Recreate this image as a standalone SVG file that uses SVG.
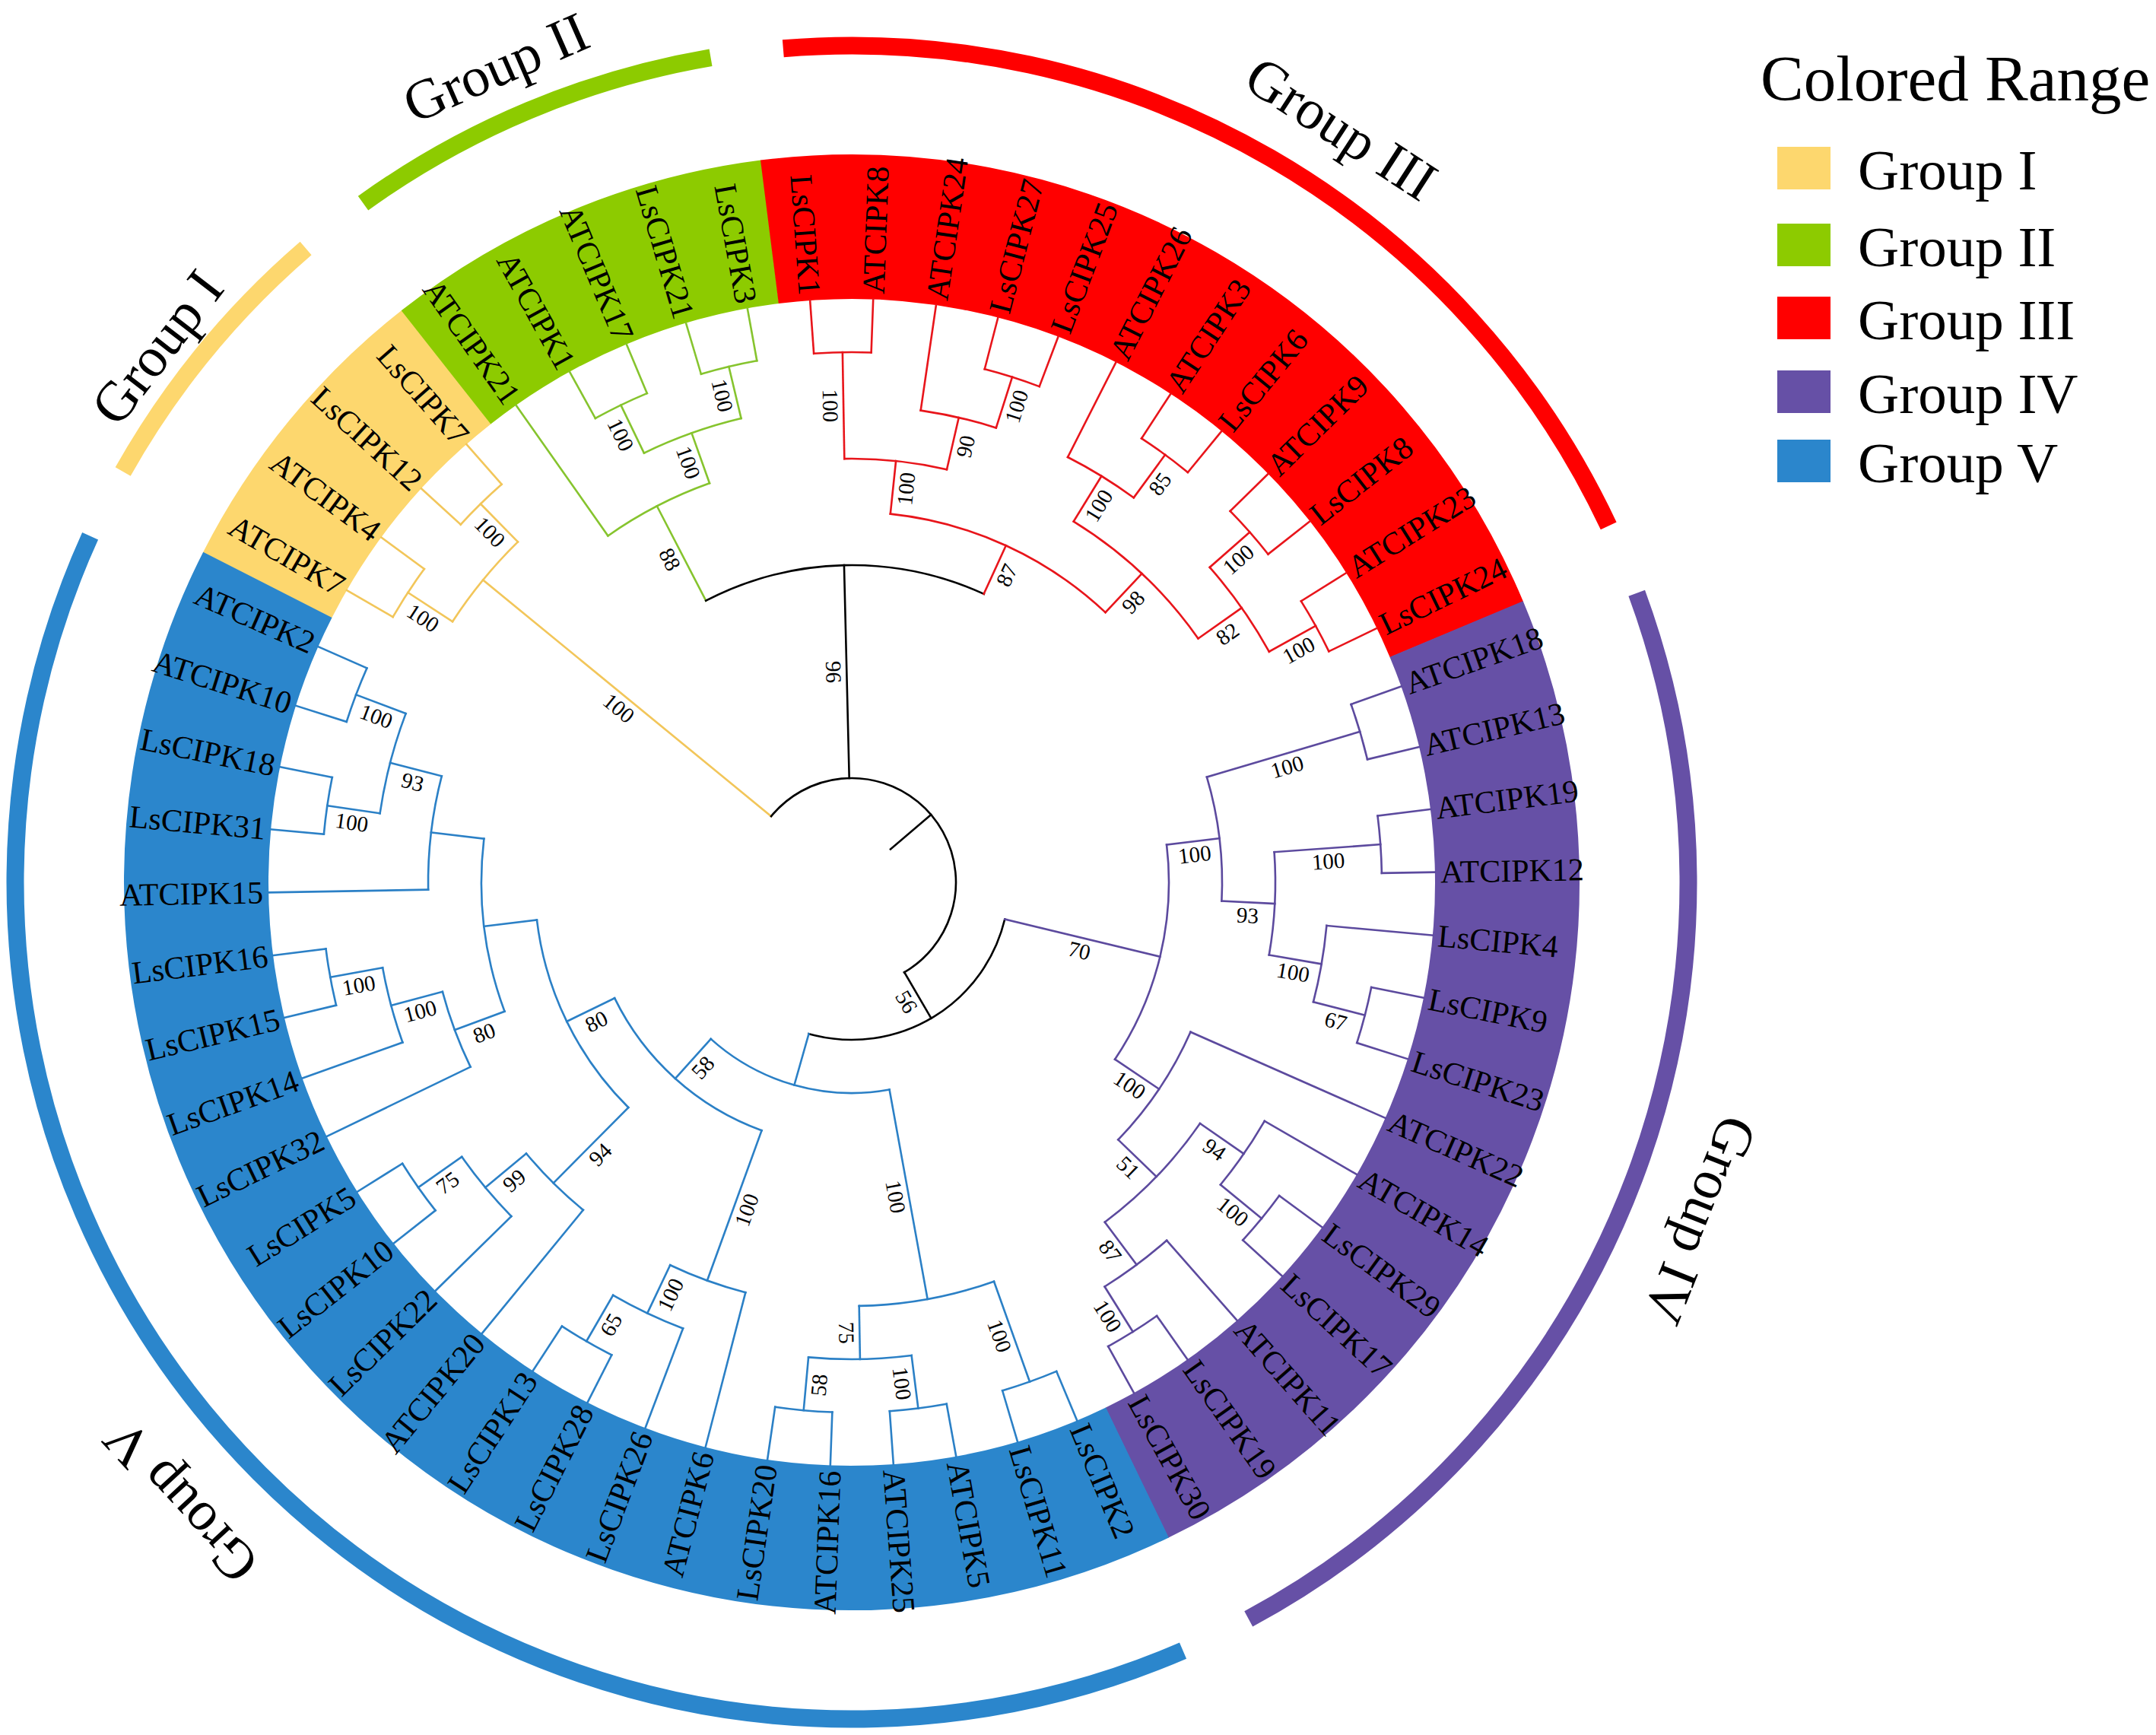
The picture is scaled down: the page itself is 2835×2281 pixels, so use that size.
<svg xmlns="http://www.w3.org/2000/svg" width="2835" height="2281" viewBox="0 0 2835 2281">
<style>
text{font-family:"Liberation Serif","Times New Roman",serif;fill:#000}
.lf{font-size:42px;dominant-baseline:central}
.ll{text-anchor:end}
.bs{font-size:29px;text-anchor:middle;dominant-baseline:central}
.gl{font-size:74px;text-anchor:middle}
.lg{font-size:75px}
.ring circle{fill:none;stroke-width:190}
.garc circle{fill:none;stroke-width:23}
.con path,.con circle{fill:none;stroke-width:2.6;stroke-linecap:square}
.y{stroke:#F2C65A}.g{stroke:#86C42E}.r{stroke:#E8151B}.p{stroke:#5C4A9E}.b{stroke:#2B80C6}.k{stroke:#000}
</style>
<rect width="2835" height="2281" fill="#fff"/>
<g transform="translate(1120,1160)">
<g class="ring" id="colored-range">
<circle r="862" stroke="#FDD76E" stroke-dasharray="374.1 9999" transform="rotate(206.934)"/>
<circle r="862" stroke="#8DCB00" stroke-dasharray="467.5 9999" transform="rotate(231.762)"/>
<circle r="862" stroke="#FF0000" stroke-dasharray="1121.1 9999" transform="rotate(262.797)"/>
<circle r="862" stroke="#6650A6" stroke-dasharray="1307.9 9999" transform="rotate(-22.721)"/>
<circle r="862" stroke="#2B86CC" stroke-dasharray="2148.3 9999" transform="rotate(64.176)"/>
</g>
<g class="con" id="connectors">
<g class="y">
<path transform="rotate(-59.962)" d="M0-697V-767"/><path transform="rotate(-53.755)" d="M0-697V-767"/><path transform="rotate(-47.548)" d="M0-697V-767"/><path transform="rotate(-41.341)" d="M0-697V-767"/>
<path transform="rotate(-56.859)" d="M0-627V-697"/><path transform="rotate(-44.445)" d="M0-627V-697"/><path transform="rotate(-50.652)" d="M0-137V-627"/>
<circle r="697" stroke-dasharray="75.51 9999" transform="rotate(-149.962)"/><circle r="697" stroke-dasharray="75.51 9999" transform="rotate(-137.548)"/><circle r="627" stroke-dasharray="135.85 9999" transform="rotate(-146.859)"/>
</g>
<g class="g">
<path transform="rotate(-35.134)" d="M0-557V-767"/><path transform="rotate(-28.928)" d="M0-697V-767"/><path transform="rotate(-22.721)" d="M0-697V-767"/><path transform="rotate(-16.514)" d="M0-697V-767"/><path transform="rotate(-10.307)" d="M0-697V-767"/>
<path transform="rotate(-25.824)" d="M0-627V-697"/><path transform="rotate(-13.41)" d="M0-627V-697"/><path transform="rotate(-19.617)" d="M0-557V-627"/><path transform="rotate(-27.3755)" d="M0-417V-557"/>
<circle r="697" stroke-dasharray="75.51 9999" transform="rotate(-118.928)"/><circle r="697" stroke-dasharray="75.51 9999" transform="rotate(-106.514)"/><circle r="627" stroke-dasharray="135.85 9999" transform="rotate(-115.824)"/><circle r="557" stroke-dasharray="150.85 9999" transform="rotate(-125.134)"/>
</g>
<g class="k">
<path transform="rotate(-1.3844)" d="M0-137V-417"/><path transform="rotate(49.519)" d="M0-67V-137"/><path transform="rotate(149.6904)" d="M0-137V-207"/>
<circle r="417" stroke-dasharray="378.33 9999" transform="rotate(-117.3755)"/><circle r="137" stroke-dasharray="479.04 9999" transform="rotate(-140.652)"/><circle r="207" stroke-dasharray="333.39 9999" transform="rotate(13.5507)"/>
</g>
<g class="r">
<path transform="rotate(-4.1)" d="M0-697V-767"/><path transform="rotate(2.107)" d="M0-697V-767"/><path transform="rotate(8.314)" d="M0-627V-767"/><path transform="rotate(14.521)" d="M0-697V-767"/><path transform="rotate(20.728)" d="M0-697V-767"/><path transform="rotate(26.934)" d="M0-627V-767"/>
<path transform="rotate(33.141)" d="M0-697V-767"/><path transform="rotate(39.348)" d="M0-697V-767"/><path transform="rotate(45.555)" d="M0-697V-767"/><path transform="rotate(51.762)" d="M0-697V-767"/><path transform="rotate(57.969)" d="M0-697V-767"/><path transform="rotate(64.176)" d="M0-697V-767"/>
<path transform="rotate(-0.997)" d="M0-557V-697"/><path transform="rotate(17.624)" d="M0-627V-697"/><path transform="rotate(12.969)" d="M0-557V-627"/><path transform="rotate(5.986)" d="M0-487V-557"/>
<path transform="rotate(36.245)" d="M0-627V-697"/><path transform="rotate(31.5895)" d="M0-557V-627"/><path transform="rotate(48.659)" d="M0-627V-697"/><path transform="rotate(61.072)" d="M0-627V-697"/><path transform="rotate(54.8655)" d="M0-557V-627"/><path transform="rotate(43.2275)" d="M0-487V-557"/><path transform="rotate(24.6068)" d="M0-417V-487"/>
<circle r="697" stroke-dasharray="75.51 9999" transform="rotate(-94.1)"/><circle r="697" stroke-dasharray="75.51 9999" transform="rotate(-75.479)"/><circle r="697" stroke-dasharray="75.51 9999" transform="rotate(-56.859)"/><circle r="697" stroke-dasharray="75.51 9999" transform="rotate(-44.445)"/><circle r="697" stroke-dasharray="75.51 9999" transform="rotate(-32.031)"/>
<circle r="627" stroke-dasharray="101.88 9999" transform="rotate(-81.686)"/><circle r="557" stroke-dasharray="135.77 9999" transform="rotate(-90.997)"/><circle r="627" stroke-dasharray="101.89 9999" transform="rotate(-63.066)"/><circle r="627" stroke-dasharray="135.84 9999" transform="rotate(-41.341)"/><circle r="557" stroke-dasharray="226.28 9999" transform="rotate(-58.4105)"/><circle r="487" stroke-dasharray="316.54 9999" transform="rotate(-84.014)"/>
</g>
<g class="p">
<path transform="rotate(70.383)" d="M0-697V-767"/><path transform="rotate(76.59)" d="M0-697V-767"/><path transform="rotate(82.797)" d="M0-697V-767"/><path transform="rotate(89.003)" d="M0-697V-767"/><path transform="rotate(95.21)" d="M0-627V-767"/><path transform="rotate(101.417)" d="M0-697V-767"/><path transform="rotate(107.624)" d="M0-697V-767"/>
<path transform="rotate(113.831)" d="M0-487V-767"/><path transform="rotate(120.038)" d="M0-627V-767"/><path transform="rotate(126.245)" d="M0-697V-767"/><path transform="rotate(132.452)" d="M0-697V-767"/><path transform="rotate(138.659)" d="M0-627V-767"/><path transform="rotate(144.866)" d="M0-697V-767"/><path transform="rotate(151.072)" d="M0-697V-767"/>
<path transform="rotate(73.486)" d="M0-487V-697"/><path transform="rotate(85.9)" d="M0-557V-697"/><path transform="rotate(104.521)" d="M0-627V-697"/><path transform="rotate(99.8655)" d="M0-557V-627"/><path transform="rotate(92.8828)" d="M0-487V-557"/><path transform="rotate(83.1844)" d="M0-417V-487"/>
<path transform="rotate(129.348)" d="M0-627V-697"/><path transform="rotate(124.693)" d="M0-557V-627"/><path transform="rotate(147.969)" d="M0-627V-697"/><path transform="rotate(143.314)" d="M0-557V-627"/><path transform="rotate(134.0035)" d="M0-487V-557"/><path transform="rotate(123.917)" d="M0-417V-487"/><path transform="rotate(103.5507)" d="M0-207V-417"/>
<circle r="697" stroke-dasharray="75.51 9999" transform="rotate(-19.617)"/><circle r="697" stroke-dasharray="75.51 9999" transform="rotate(-7.203)"/><circle r="697" stroke-dasharray="75.51 9999" transform="rotate(11.417)"/><circle r="697" stroke-dasharray="75.51 9999" transform="rotate(36.245)"/><circle r="697" stroke-dasharray="75.51 9999" transform="rotate(54.866)"/>
<circle r="627" stroke-dasharray="101.89 9999" transform="rotate(5.21)"/><circle r="557" stroke-dasharray="135.77 9999" transform="rotate(-4.1)"/><circle r="487" stroke-dasharray="164.87 9999" transform="rotate(-16.514)"/><circle r="627" stroke-dasharray="101.88 9999" transform="rotate(30.038)"/><circle r="627" stroke-dasharray="101.88 9999" transform="rotate(48.659)"/><circle r="557" stroke-dasharray="181.02 9999" transform="rotate(34.693)"/><circle r="487" stroke-dasharray="171.46 9999" transform="rotate(23.831)"/><circle r="417" stroke-dasharray="296.45 9999" transform="rotate(-6.8156)"/>
</g>
<g class="b">
<path transform="rotate(157.279)" d="M0-697V-767"/><path transform="rotate(163.486)" d="M0-697V-767"/><path transform="rotate(169.693)" d="M0-697V-767"/><path transform="rotate(175.9)" d="M0-697V-767"/><path transform="rotate(182.107)" d="M0-697V-767"/><path transform="rotate(188.314)" d="M0-697V-767"/>
<path transform="rotate(194.521)" d="M0-557V-767"/><path transform="rotate(200.728)" d="M0-627V-767"/><path transform="rotate(206.934)" d="M0-697V-767"/><path transform="rotate(213.141)" d="M0-697V-767"/><path transform="rotate(219.348)" d="M0-557V-767"/><path transform="rotate(225.555)" d="M0-627V-767"/>
<path transform="rotate(231.762)" d="M0-697V-767"/><path transform="rotate(237.969)" d="M0-697V-767"/><path transform="rotate(244.176)" d="M0-557V-767"/><path transform="rotate(250.383)" d="M0-627V-767"/><path transform="rotate(256.59)" d="M0-697V-767"/><path transform="rotate(262.797)" d="M0-697V-767"/>
<path transform="rotate(269.003)" d="M0-557V-767"/><path transform="rotate(275.21)" d="M0-697V-767"/><path transform="rotate(281.417)" d="M0-697V-767"/><path transform="rotate(287.624)" d="M0-697V-767"/><path transform="rotate(293.831)" d="M0-697V-767"/>
<path transform="rotate(160.383)" d="M0-557V-697"/><path transform="rotate(172.797)" d="M0-627V-697"/><path transform="rotate(185.21)" d="M0-627V-697"/><path transform="rotate(179.0035)" d="M0-557V-627"/><path transform="rotate(169.693)" d="M0-277V-557"/>
<path transform="rotate(210.038)" d="M0-627V-697"/><path transform="rotate(205.383)" d="M0-557V-627"/><path transform="rotate(199.952)" d="M0-347V-557"/><path transform="rotate(234.866)" d="M0-627V-697"/><path transform="rotate(230.2105)" d="M0-557V-627"/><path transform="rotate(224.7793)" d="M0-417V-557"/>
<path transform="rotate(259.693)" d="M0-627V-697"/><path transform="rotate(255.038)" d="M0-557V-627"/><path transform="rotate(249.607)" d="M0-487V-557"/><path transform="rotate(278.314)" d="M0-627V-697"/><path transform="rotate(290.728)" d="M0-627V-697"/><path transform="rotate(284.521)" d="M0-557V-627"/>
<path transform="rotate(276.762)" d="M0-487V-557"/><path transform="rotate(263.1845)" d="M0-417V-487"/><path transform="rotate(243.9819)" d="M0-347V-417"/><path transform="rotate(221.967)" d="M0-277V-347"/><path transform="rotate(195.83)" d="M0-207V-277"/>
<circle r="697" stroke-dasharray="75.51 9999" transform="rotate(67.279)"/><circle r="697" stroke-dasharray="75.51 9999" transform="rotate(79.693)"/><circle r="697" stroke-dasharray="75.51 9999" transform="rotate(92.107)"/><circle r="697" stroke-dasharray="75.51 9999" transform="rotate(116.934)"/><circle r="697" stroke-dasharray="75.51 9999" transform="rotate(141.762)"/><circle r="697" stroke-dasharray="75.51 9999" transform="rotate(166.59)"/><circle r="697" stroke-dasharray="75.51 9999" transform="rotate(185.21)"/><circle r="697" stroke-dasharray="75.51 9999" transform="rotate(197.624)"/>
<circle r="627" stroke-dasharray="135.84 9999" transform="rotate(82.797)"/><circle r="557" stroke-dasharray="181.02 9999" transform="rotate(70.383)"/><circle r="627" stroke-dasharray="101.88 9999" transform="rotate(110.728)"/><circle r="557" stroke-dasharray="105.59 9999" transform="rotate(104.521)"/><circle r="627" stroke-dasharray="101.89 9999" transform="rotate(135.555)"/><circle r="557" stroke-dasharray="105.6 9999" transform="rotate(129.348)"/>
<circle r="627" stroke-dasharray="101.88 9999" transform="rotate(160.383)"/><circle r="557" stroke-dasharray="105.59 9999" transform="rotate(154.176)"/><circle r="627" stroke-dasharray="135.85 9999" transform="rotate(188.314)"/><circle r="557" stroke-dasharray="150.86 9999" transform="rotate(179.003)"/><circle r="487" stroke-dasharray="230.81 9999" transform="rotate(159.607)"/><circle r="417" stroke-dasharray="279.51 9999" transform="rotate(134.7793)"/><circle r="347" stroke-dasharray="266.66 9999" transform="rotate(109.952)"/><circle r="277" stroke-dasharray="252.72 9999" transform="rotate(79.693)"/>
</g>
</g>
<g class="bs" id="bootstrap">
<text x="-382" y="17" transform="rotate(39.348)">100</text>
<text x="-662" y="17" transform="rotate(33.141)">100</text>
<text x="-662" y="17" transform="rotate(45.555)">100</text>
<text x="-487" y="17" transform="rotate(62.6245)">88</text>
<text x="-592" y="17" transform="rotate(70.383)">100</text>
<text x="-662" y="17" transform="rotate(64.176)">100</text>
<text x="-662" y="17" transform="rotate(76.59)">100</text>
<text x="-277" y="17" transform="rotate(88.6156)">96</text>
<text x="172" y="17" transform="rotate(59.6904)">56</text>
<text x="452" y="17" transform="rotate(-65.3932)">87</text>
<text x="522" y="17" transform="rotate(-84.014)">100</text>
<text x="-627" y="17" transform="rotate(89.003)">100</text>
<text x="592" y="17" transform="rotate(-77.031)">90</text>
<text x="662" y="17" transform="rotate(-72.376)">100</text>
<text x="522" y="17" transform="rotate(-46.7725)">98</text>
<text x="592" y="17" transform="rotate(-58.4105)">100</text>
<text x="662" y="17" transform="rotate(-53.755)">85</text>
<text x="592" y="17" transform="rotate(-35.1345)">82</text>
<text x="662" y="17" transform="rotate(-41.341)">100</text>
<text x="662" y="17" transform="rotate(-28.928)">100</text>
<text x="312" y="17" transform="rotate(13.5507)">70</text>
<text x="452" y="17" transform="rotate(-6.8156)">100</text>
<text x="592" y="17" transform="rotate(-16.514)">100</text>
<text x="522" y="17" transform="rotate(2.8828)">93</text>
<text x="627" y="17" transform="rotate(-4.1)">100</text>
<text x="592" y="17" transform="rotate(9.8655)">100</text>
<text x="662" y="17" transform="rotate(14.521)">67</text>
<text x="452" y="17" transform="rotate(33.917)">100</text>
<text x="522" y="17" transform="rotate(44.0035)">51</text>
<text x="592" y="17" transform="rotate(34.693)">94</text>
<text x="662" y="17" transform="rotate(39.348)">100</text>
<text x="592" y="17" transform="rotate(53.314)">87</text>
<text x="662" y="17" transform="rotate(57.969)">100</text>
<text x="-312" y="17" transform="rotate(-48.033)">58</text>
<text x="417" y="17" transform="rotate(79.693)">100</text>
<text x="627" y="17" transform="rotate(70.383)">100</text>
<text x="592" y="17" transform="rotate(89.0035)">75</text>
<text x="662" y="17" transform="rotate(82.797)">100</text>
<text x="-662" y="17" transform="rotate(-84.79)">58</text>
<text x="-452" y="17" transform="rotate(-70.048)">100</text>
<text x="-592" y="17" transform="rotate(-64.617)">100</text>
<text x="-662" y="17" transform="rotate(-59.962)">65</text>
<text x="-382" y="17" transform="rotate(-26.0181)">80</text>
<text x="-487" y="17" transform="rotate(-45.2207)">94</text>
<text x="-592" y="17" transform="rotate(-39.7895)">99</text>
<text x="-662" y="17" transform="rotate(-35.134)">75</text>
<text x="-522" y="17" transform="rotate(-20.393)">80</text>
<text x="-592" y="17" transform="rotate(-14.962)">100</text>
<text x="-662" y="17" transform="rotate(-10.307)">100</text>
<text x="-592" y="17" transform="rotate(14.521)">93</text>
<text x="-662" y="17" transform="rotate(8.314)">100</text>
<text x="-662" y="17" transform="rotate(20.728)">100</text>
</g>
<g id="leaves">
<g id="LsCIPK1"><text class="lf ll" x="-774" transform="rotate(85.9)">LsCIPK1</text></g>
<g id="ATCIPK8"><text class="lf" x="774" transform="rotate(-87.893)">ATCIPK8</text></g>
<g id="ATCIPK24"><text class="lf" x="774" transform="rotate(-81.686)">ATCIPK24</text></g>
<g id="LsCIPK27"><text class="lf" x="774" transform="rotate(-75.479)">LsCIPK27</text></g>
<g id="LsCIPK25"><text class="lf" x="774" transform="rotate(-69.272)">LsCIPK25</text></g>
<g id="ATCIPK26"><text class="lf" x="774" transform="rotate(-63.066)">ATCIPK26</text></g>
<g id="ATCIPK3"><text class="lf" x="774" transform="rotate(-56.859)">ATCIPK3</text></g>
<g id="LsCIPK6"><text class="lf" x="774" transform="rotate(-50.652)">LsCIPK6</text></g>
<g id="ATCIPK9"><text class="lf" x="774" transform="rotate(-44.445)">ATCIPK9</text></g>
<g id="LsCIPK8"><text class="lf" x="774" transform="rotate(-38.238)">LsCIPK8</text></g>
<g id="ATCIPK23"><text class="lf" x="774" transform="rotate(-32.031)">ATCIPK23</text></g>
<g id="LsCIPK24"><text class="lf" x="774" transform="rotate(-25.824)">LsCIPK24</text></g>
<g id="ATCIPK18"><text class="lf" x="774" transform="rotate(-19.617)">ATCIPK18</text></g>
<g id="ATCIPK13"><text class="lf" x="774" transform="rotate(-13.41)">ATCIPK13</text></g>
<g id="ATCIPK19"><text class="lf" x="774" transform="rotate(-7.203)">ATCIPK19</text></g>
<g id="ATCIPK12"><text class="lf" x="774" transform="rotate(-0.997)">ATCIPK12</text></g>
<g id="LsCIPK4"><text class="lf" x="774" transform="rotate(5.21)">LsCIPK4</text></g>
<g id="LsCIPK9"><text class="lf" x="774" transform="rotate(11.417)">LsCIPK9</text></g>
<g id="LsCIPK23"><text class="lf" x="774" transform="rotate(17.624)">LsCIPK23</text></g>
<g id="ATCIPK22"><text class="lf" x="774" transform="rotate(23.831)">ATCIPK22</text></g>
<g id="ATCIPK14"><text class="lf" x="774" transform="rotate(30.038)">ATCIPK14</text></g>
<g id="LsCIPK29"><text class="lf" x="774" transform="rotate(36.245)">LsCIPK29</text></g>
<g id="LsCIPK17"><text class="lf" x="774" transform="rotate(42.452)">LsCIPK17</text></g>
<g id="ATCIPK11"><text class="lf" x="774" transform="rotate(48.659)">ATCIPK11</text></g>
<g id="LsCIPK19"><text class="lf" x="774" transform="rotate(54.866)">LsCIPK19</text></g>
<g id="LsCIPK30"><text class="lf" x="774" transform="rotate(61.072)">LsCIPK30</text></g>
<g id="LsCIPK2"><text class="lf" x="774" transform="rotate(67.279)">LsCIPK2</text></g>
<g id="LsCIPK11"><text class="lf" x="774" transform="rotate(73.486)">LsCIPK11</text></g>
<g id="ATCIPK5"><text class="lf" x="774" transform="rotate(79.693)">ATCIPK5</text></g>
<g id="ATCIPK25"><text class="lf" x="774" transform="rotate(85.9)">ATCIPK25</text></g>
<g id="ATCIPK16"><text class="lf ll" x="-774" transform="rotate(-87.893)">ATCIPK16</text></g>
<g id="LsCIPK20"><text class="lf ll" x="-774" transform="rotate(-81.686)">LsCIPK20</text></g>
<g id="ATCIPK6"><text class="lf ll" x="-774" transform="rotate(-75.479)">ATCIPK6</text></g>
<g id="LsCIPK26"><text class="lf ll" x="-774" transform="rotate(-69.272)">LsCIPK26</text></g>
<g id="LsCIPK28"><text class="lf ll" x="-774" transform="rotate(-63.066)">LsCIPK28</text></g>
<g id="LsCIPK13"><text class="lf ll" x="-774" transform="rotate(-56.859)">LsCIPK13</text></g>
<g id="ATCIPK20"><text class="lf ll" x="-774" transform="rotate(-50.652)">ATCIPK20</text></g>
<g id="LsCIPK22"><text class="lf ll" x="-774" transform="rotate(-44.445)">LsCIPK22</text></g>
<g id="LsCIPK10"><text class="lf ll" x="-774" transform="rotate(-38.238)">LsCIPK10</text></g>
<g id="LsCIPK5"><text class="lf ll" x="-774" transform="rotate(-32.031)">LsCIPK5</text></g>
<g id="LsCIPK32"><text class="lf ll" x="-774" transform="rotate(-25.824)">LsCIPK32</text></g>
<g id="LsCIPK14"><text class="lf ll" x="-774" transform="rotate(-19.617)">LsCIPK14</text></g>
<g id="LsCIPK15"><text class="lf ll" x="-774" transform="rotate(-13.41)">LsCIPK15</text></g>
<g id="LsCIPK16"><text class="lf ll" x="-774" transform="rotate(-7.203)">LsCIPK16</text></g>
<g id="ATCIPK15"><text class="lf ll" x="-774" transform="rotate(-0.997)">ATCIPK15</text></g>
<g id="LsCIPK31"><text class="lf ll" x="-774" transform="rotate(5.21)">LsCIPK31</text></g>
<g id="LsCIPK18"><text class="lf ll" x="-774" transform="rotate(11.417)">LsCIPK18</text></g>
<g id="ATCIPK10"><text class="lf ll" x="-774" transform="rotate(17.624)">ATCIPK10</text></g>
<g id="ATCIPK2"><text class="lf ll" x="-774" transform="rotate(23.831)">ATCIPK2</text></g>
<g id="ATCIPK7"><text class="lf ll" x="-774" transform="rotate(30.038)">ATCIPK7</text></g>
<g id="ATCIPK4"><text class="lf ll" x="-774" transform="rotate(36.245)">ATCIPK4</text></g>
<g id="LsCIPK12"><text class="lf ll" x="-774" transform="rotate(42.452)">LsCIPK12</text></g>
<g id="LsCIPK7"><text class="lf ll" x="-774" transform="rotate(48.659)">LsCIPK7</text></g>
<g id="ATCIPK21"><text class="lf ll" x="-774" transform="rotate(54.866)">ATCIPK21</text></g>
<g id="ATCIPK1"><text class="lf ll" x="-774" transform="rotate(61.072)">ATCIPK1</text></g>
<g id="ATCIPK17"><text class="lf ll" x="-774" transform="rotate(67.279)">ATCIPK17</text></g>
<g id="LsCIPK21"><text class="lf ll" x="-774" transform="rotate(73.486)">LsCIPK21</text></g>
<g id="LsCIPK3"><text class="lf ll" x="-774" transform="rotate(79.693)">LsCIPK3</text></g>
</g>
<g class="garc" id="group-arcs">
<circle r="1100" stroke="#FDD76E" stroke-dasharray="381.3 9999" transform="rotate(-150.6)"/>
<circle r="1100" stroke="#8DCB00" stroke-dasharray="499.8 9999" transform="rotate(-125.738)"/>
<circle r="1100" stroke="#FF0000" stroke-dasharray="1333.9 9999" transform="rotate(-94.703)"/>
<circle r="1100" stroke="#6650A6" stroke-dasharray="1572.3 9999" transform="rotate(-20.221)"/>
<circle r="1100" stroke="#2B86CC" stroke-dasharray="2644.7 9999" transform="rotate(66.676)"/>
</g>
<g id="group-labels">
<g id="label-group-I"><text class="gl" y="-1128" transform="rotate(-52.4)">Group I</text></g>
<g id="label-group-II"><text class="gl" y="-1144" transform="rotate(-23.6)">Group II</text></g>
<g id="label-group-III"><text class="gl" y="-1157" transform="rotate(33)">Group III</text></g>
<g id="label-group-IV"><text class="gl" y="-1176" transform="rotate(111.7)">Group IV</text></g>
<g id="label-group-V"><text class="gl" y="-1176" transform="rotate(227.3)">Group V</text></g>
</g>
</g>
<g id="legend">
<text x="2315" y="132" style="font-size:85px">Colored Range</text>
<g id="legend-group-I"><rect x="2337" y="193" width="70" height="56" fill="#FDD76E"/><text class="lg" x="2443" y="249">Group I</text></g>
<g id="legend-group-II"><rect x="2337" y="294" width="70" height="56" fill="#8DCB00"/><text class="lg" x="2443" y="350">Group II</text></g>
<g id="legend-group-III"><rect x="2337" y="390" width="70" height="56" fill="#FF0000"/><text class="lg" x="2443" y="446">Group III</text></g>
<g id="legend-group-IV"><rect x="2337" y="487" width="70" height="56" fill="#6650A6"/><text class="lg" x="2443" y="543">Group IV</text></g>
<g id="legend-group-V"><rect x="2337" y="578" width="70" height="56" fill="#2B86CC"/><text class="lg" x="2443" y="634">Group V</text></g>
</g>
</svg>
